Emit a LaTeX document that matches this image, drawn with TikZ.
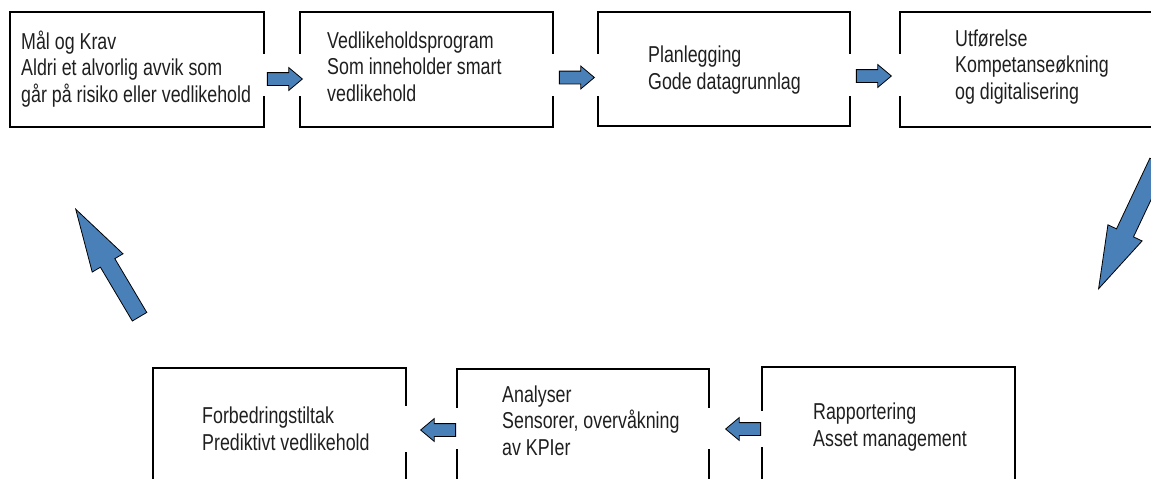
\documentclass[tikz,border=0pt]{standalone}
\usepackage{fontspec}
\setmainfont[FakeStretch=0.775]{Liberation Sans}
\usetikzlibrary{shapes.arrows}
\definecolor{arrowblue}{HTML}{4A80B8}
\begin{document}
\begin{tikzpicture}[x=1pt,y=-1pt,
  boxarea/.style={draw=none, rectangle, inner sep=0pt, outer sep=0pt, anchor=north west},
  side/.style={line width=1.8pt, line cap=rect},
  topedge/.style={line width=2.4pt, line cap=rect},
  boxlabel/.style={anchor=base west, align=left, inner sep=0pt, font=\fontsize{23}{26.5}\selectfont, text=black!88},
  blockarrow/.style={single arrow, draw=black, line width=0.8pt, fill=arrowblue, inner xsep=0pt, minimum width=0pt, anchor=tip},
  smallarrow/.style={blockarrow, minimum height=35pt, inner ysep=6pt, single arrow head extend=5pt, single arrow tip angle=80},
  bigarrow/.style={blockarrow, single arrow tip angle=34, inner ysep=9pt, single arrow head extend=9.5pt}
]
\useasboundingbox (0,0) rectangle (1151,479);
\clip (0,0) rectangle (1151,479);

% box areas
\node[boxarea, minimum width=254pt, minimum height=115pt] (b1) at (10,12) {};
\node[boxarea, minimum width=253pt, minimum height=115pt] (b2) at (300,12) {};
\node[boxarea, minimum width=252pt, minimum height=114pt] (b3) at (598,12) {};
\node[boxarea, minimum width=270pt, minimum height=115pt] (b4) at (900,12) {};
\node[boxarea, minimum width=253pt, minimum height=130pt] (b5) at (153,368) {};
\node[boxarea, minimum width=252pt, minimum height=130pt] (b6) at (457,369) {};
\node[boxarea, minimum width=253pt, minimum height=130pt] (b7) at (762,367) {};

% box 1 (gap on right)
\draw[topedge] (b1.north west) -- (b1.north east);
\draw[side] (b1.north west) -- (b1.south west) -- (b1.south east) -- (b1.east |- 0,97);
\draw[side] (b1.north east) -- (b1.east |- 0,53);
% box 2 (gaps both sides)
\draw[topedge] (b2.north west) -- (b2.north east);
\draw[side] (b2.west |- 0,97) -- (b2.south west) -- (b2.south east) -- (b2.east |- 0,97);
\draw[side] (b2.north west) -- (b2.west |- 0,53);
\draw[side] (b2.north east) -- (b2.east |- 0,53);
% box 3 (gaps both sides)
\draw[topedge] (b3.north west) -- (b3.north east);
\draw[side] (b3.west |- 0,97) -- (b3.south west) -- (b3.south east) -- (b3.east |- 0,97);
\draw[side] (b3.north west) -- (b3.west |- 0,53);
\draw[side] (b3.north east) -- (b3.east |- 0,53);
% box 4 (gap on left)
\draw[topedge] (b4.north west) -- (b4.north east);
\draw[side] (b4.west |- 0,97) -- (b4.south west) -- (b4.south east) -- (b4.north east);
\draw[side] (b4.north west) -- (b4.west |- 0,53);
% box 5 (gap on right)
\draw[topedge] (b5.north west) -- (b5.north east);
\draw[side] (b5.north west) -- (b5.south west);
\draw[side] (b5.north east) -- (b5.east |- 0,405);
\draw[side] (b5.east |- 0,453) -- (b5.south east);
% box 6 (gaps both sides)
\draw[topedge] (b6.north west) -- (b6.north east);
\draw[side] (b6.north west) -- (b6.west |- 0,407);
\draw[side] (b6.west |- 0,450) -- (b6.south west);
\draw[side] (b6.north east) -- (b6.east |- 0,407);
\draw[side] (b6.east |- 0,450) -- (b6.south east);
% box 7 (gap on left)
\draw[topedge] (b7.north west) -- (b7.north east);
\draw[side] (b7.north west) -- (b7.west |- 0,410);
\draw[side] (b7.west |- 0,448) -- (b7.south west);
\draw[side] (b7.north east) -- (b7.south east);

% texts (anchored at the baseline of the last line)
\node[boxlabel] (t1) at (21,102) {Mål og Krav\\Aldri et alvorlig avvik som\\går på risiko eller vedlikehold};
\node[boxlabel] (t2) at (327,101) {Vedlikeholdsprogram\\Som inneholder smart\\vedlikehold};
\node[boxlabel] (t3) at (648,89) {Planlegging\\Gode datagrunnlag};
\node[boxlabel] (t4) at (955,99) {Utførelse\\Kompetanseøkning\\og digitalisering};
\node[boxlabel] (t5) at (202,450) {Forbedringstiltak\\Prediktivt vedlikehold};
\node[boxlabel] (t6) at (502,455) {Analyser\\Sensorer, overvåkning\\av KPIer};
\node[boxlabel] (t7) at (813,446) {Rapportering\\Asset management};

% arrows
\node[smallarrow] (a12) at (303,79) {};
\node[smallarrow] (a23) at (595,77.5) {};
\node[smallarrow] (a34) at (892,76) {};
\node[bigarrow, rotate=244.7, minimum height=140pt] (a47) at (1098,290) {};
\node[smallarrow, rotate=180] (a76) at (725,429) {};
\node[smallarrow, rotate=180] (a65) at (420,430) {};
\node[bigarrow, rotate=120.7, minimum height=125pt, inner ysep=8pt, single arrow tip angle=32] (a51) at (75,208) {};
\end{tikzpicture}
\end{document}
